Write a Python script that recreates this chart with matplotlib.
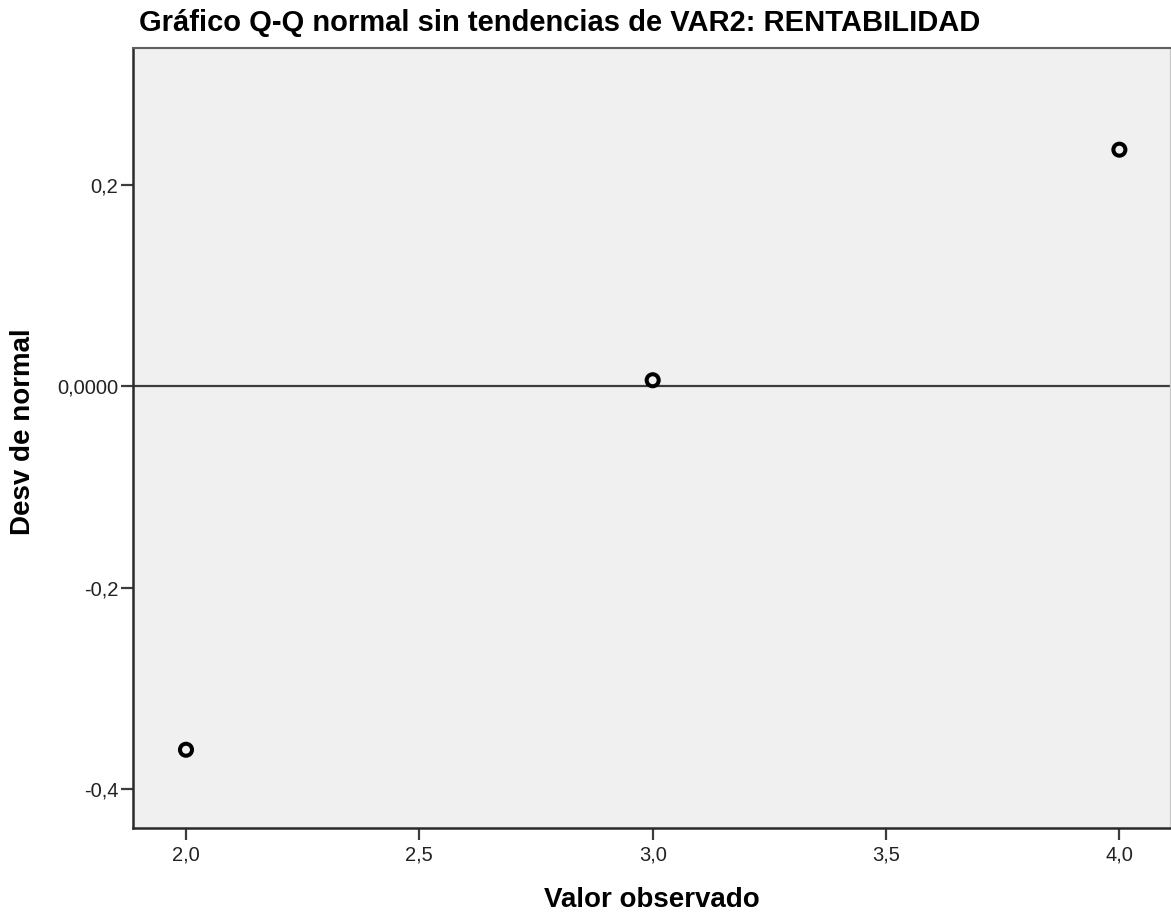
import matplotlib.pyplot as plt

plt.rcParams['font.family'] = ['Liberation Sans', 'DejaVu Sans']

observed = [2.0, 3.0, 4.0]
deviation = [-0.361, 0.006, 0.235]

x_ticks = [2.0, 2.5, 3.0, 3.5, 4.0]
x_labels = ["2,0", "2,5", "3,0", "3,5", "4,0"]
y_ticks = [-0.4, -0.2, 0.0, 0.2]
y_labels = ["-0,4", "-0,2", "0,0000", "0,2"]

fig = plt.figure(figsize=(11.71, 9.16), dpi=100)
ax = fig.add_axes([0.1136, 0.0961, 0.8856, 0.8515])
ax.set_facecolor('#f0f0f0')

# reference line at zero
ax.axhline(0, color='#3c3c3c', linewidth=1.6, zorder=1)
ax.scatter(observed, deviation, s=75, facecolors='none', edgecolors='black',
           linewidths=2.9, zorder=3)

ax.set_xlim(1.8865, 4.1086)
ax.set_ylim(-0.4387, 0.336)
ax.set_xticks(x_ticks)
ax.set_xticklabels(x_labels)
ax.set_yticks(y_ticks)
ax.set_yticklabels(y_labels)
ax.tick_params(axis='both', length=8.5, width=1.6, color='#3c3c3c',
               labelsize=14.5, labelcolor='#222222')
ax.tick_params(axis='x', pad=4)
ax.tick_params(axis='y', pad=2)

for side in ['left', 'bottom']:
    ax.spines[side].set_color('#2a2a2a')
    ax.spines[side].set_linewidth(1.8)
ax.spines['top'].set_color('#606060')
ax.spines['top'].set_linewidth(1.5)
ax.spines['right'].set_color('#c8c8c8')
ax.spines['right'].set_linewidth(1.0)

ax.set_xlabel("Valor observado", fontsize=20, fontweight='bold', va='center')
ax.xaxis.set_label_coords(0.5, -0.0923)
ax.set_ylabel("Desv de normal", fontsize=20, fontweight='bold', va='center')
ax.yaxis.set_label_coords(-0.106, 0.508)
fig.text(139 / 1171, 0.9662, "Gráfico Q-Q normal sin tendencias de VAR2: RENTABILIDAD",
         fontsize=21, fontweight='bold', ha='left', va='baseline')

fig.savefig("out.png", dpi=100)
